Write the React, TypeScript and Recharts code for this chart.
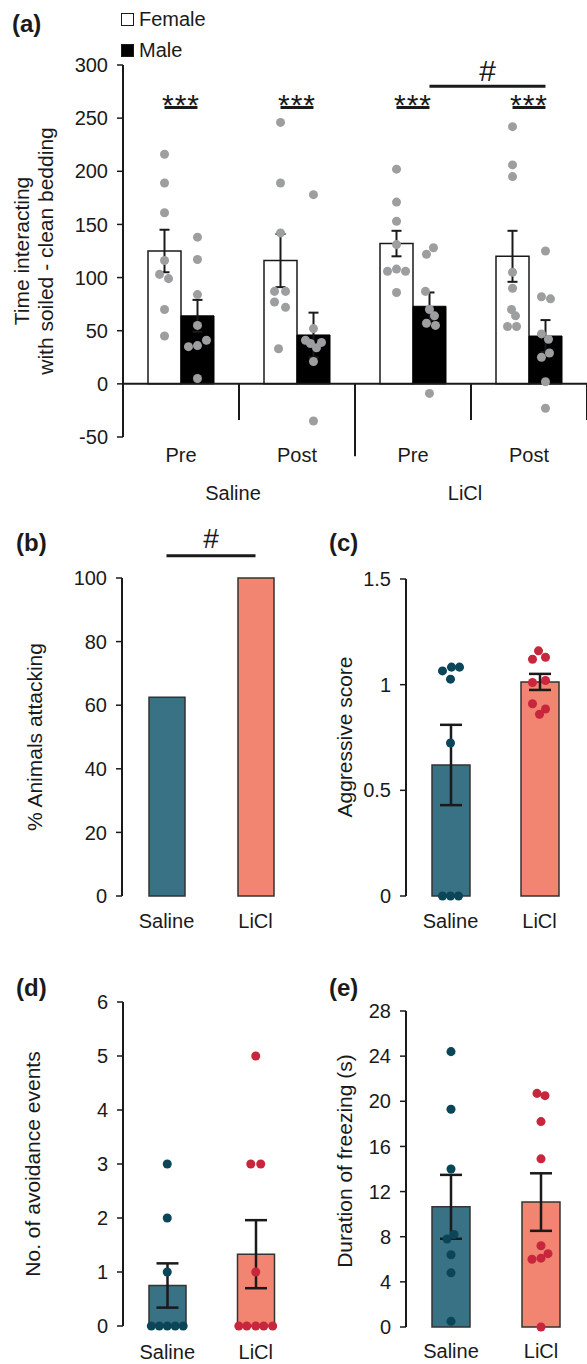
import React from "react"
import { Bar, Cell, ComposedChart, ErrorBar, Legend, ReferenceLine, Scatter, XAxis, YAxis } from "recharts"

const FONT = '"Liberation Sans", Arial, Helvetica, sans-serif'
const INK = "#1a1a1a"
const GRAY = "#9c9ea0"
const BAR_COLORS = ["#3a7285", "#f28472"]
const DOT_COLORS = ["#0b4658", "#c8263c"]

// (a) soiled - clean bedding, per phase
const phases = ["Pre", "Post", "Pre", "Post"]
const treatments = ["Saline", "LiCl"]
const femaleMean = [125, 116, 132, 120]
const femaleSem = [20, 25, 12, 24]
const maleMean = [64, 46, 73, 45]
const maleSem = [15, 21, 13, 15]
const femalePoints = [
  [216, 189, 161, 116, 103, 99, 70, 45],
  [246, 189, 142, 87, 87, 77, 72, 33],
  [202, 171, 153, 131, 106, 108, 106, 86],
  [242, 206, 195, 105, 90, 70, 64, 54, 54],
]
const femaleJitter = [
  [0, 0, 0, 0, -5, 4, 0, 0],
  [0, 0, 0, -6, 5, -6, 5, -2],
  [0, 0, 0, 0, -9, 0, 9, 0],
  [0, 0, 0, 0, 0, -1, 3, -5, 4],
]
const malePoints = [
  [138, 117, 84, 55, 35, 36, 41, 5],
  [178, 52, 41, 39, 38, 34, 21, -35],
  [128, 122, 87, 70, 64, 57, 55, -9],
  [125, 82, 80, 47, 42, 29, 25, 2, -23],
]
const maleJitter = [
  [0, 0, 0, 0, -9, 0, 9, 0],
  [0, 0, -8, 8, -3, 3, 0, 0],
  [4, -3, -4, 0, 5, -3, 6, 0],
  [0, -4, 5, -4, 3, 4, -4, 0, 0],
]

// (b) % animals attacking
const groups = ["Saline", "LiCl"]
const pctAttacking = [62.5, 100]

// (c) aggressive score
const aggMean = [0.62, 1.013]
const aggSem = [0.19, 0.038]
const aggSaline = [1.065, 1.083, 1.083, 1.026, 0.724, 0, 0, 0]
const aggSalineJitter = [-8, 1, 9, 0, 0, -8, 0, 8]
const aggLicl = [1.16, 1.12, 1.13, 1.01, 1.02, 0.91, 0.885, 0.86]
const aggLiclJitter = [-1, -7, 6, -7, 6, -7, 6, 0]

// (d) avoidance events
const avoidMean = [0.75, 1.33]
const avoidSem = [0.41, 0.63]
const avoidSaline = [3, 2, 1, 0, 0, 0, 0, 0]
const avoidSalineJitter = [0, 0, 0, -16, -8, 0, 8, 16]
const avoidLicl = [5, 3, 3, 1, 0, 0, 0, 0, 0]
const avoidLiclJitter = [0, -5, 5, 0, -17, -9, 0, 8, 17]

// (e) freezing duration
const freezeMean = [10.65, 11.07]
const freezeSem = [2.83, 2.55]
const freezeSaline = [24.4, 19.3, 14, 8.2, 7.8, 6.4, 4.8, 0.5]
const freezeSalineJitter = [0, 0, 0, 3, -4, 0, 0, 0]
const freezeLicl = [20.7, 20.5, 18.2, 14.9, 7.2, 6.0, 6.1, 6.5, 0]
const freezeLiclJitter = [-4, 4, 0, 0, 0, -9, 0, 7, 0]

const dataA = phases.map((phase, i) => ({
  phase,
  female: femaleMean[i],
  femaleSem: femaleSem[i],
  male: maleMean[i],
  maleSem: maleSem[i],
}))

const UNIT_A = 116
const dotsA = (vals: number[][], jit: number[][], slot: number) =>
  vals.flatMap((g, i) => g.map((y, j) => ({ x: i + slot + jit[i][j] / UNIT_A, y })))

const femaleDots = dotsA(femalePoints, femaleJitter, 0.358)
const maleDots = dotsA(malePoints, maleJitter, 0.642)

const dotsSmall = (vals: number[], jit: number[], idx: number, unit: number) =>
  vals.map((y, j) => ({ x: idx + 0.5 + jit[j] / unit, y }))

const sigA = [
  { from: 0.358, to: 0.642, y: 260 },
  { from: 1.358, to: 1.642, y: 260 },
  { from: 2.358, to: 2.642, y: 260 },
  { from: 3.358, to: 3.642, y: 260 },
]
const separators = [
  { x: 1, to: -34 },
  { x: 2, to: -68 },
  { x: 3, to: -34 },
  { x: 4, to: -34 },
]

const tickStyle = { fontSize: 20, fill: INK, fontFamily: FONT }

function YTitle({ lines, xs, cy, size }: { lines: string[]; xs: number[]; cy: number; size: number }) {
  return (
    <g>
      {lines.map((t, i) => (
        <text
          key={i}
          x={xs[i]}
          y={cy}
          dy="0.35em"
          transform={`rotate(-90 ${xs[i]} ${cy})`}
          textAnchor="middle"
          fontSize={size}
          fill={INK}
          fontFamily={FONT}
        >
          {t}
        </text>
      ))}
    </g>
  )
}

const renderLegend = (props: any) => {
  const items = (props.payload || []).filter((p: any) => p.type !== "none")
  return (
    <div style={{ fontSize: 20, lineHeight: "31px", fontFamily: FONT, color: INK }}>
      {items.map((entry: any) => (
        <div key={entry.value} style={{ display: "flex", alignItems: "center" }}>
          <span
            style={{
              display: "inline-block",
              width: 11,
              height: 11,
              border: `1.5px solid ${INK}`,
              background: entry.color,
              marginRight: 5,
            }}
          />
          {entry.value}
        </div>
      ))}
    </div>
  )
}

function PanelA() {
  return (
    <div style={{ position: "absolute", left: 0, top: 0 }}>
      <ComposedChart width={587} height={520} data={dataA} barGap={0} margin={{ top: 65, right: 0, bottom: 13, left: 63 }}>
        <XAxis
          xAxisId="cat"
          dataKey="phase"
          height={30}
          axisLine={false}
          tickLine={false}
          tickSize={0}
          tickMargin={11}
          interval={0}
          tick={tickStyle}
        />
        <XAxis
          xAxisId="num"
          type="number"
          dataKey="x"
          domain={[0, 4]}
          ticks={[1, 3]}
          tickFormatter={(v: number) => treatments[(v - 1) / 2]}
          height={40}
          axisLine={false}
          tickLine={false}
          tickSize={0}
          tickMargin={19}
          tick={{ ...tickStyle, dx: -6 }}
        />
        <YAxis
          width={60}
          domain={[-50, 300]}
          ticks={[-50, 0, 50, 100, 150, 200, 250, 300]}
          interval={0}
          tick={tickStyle}
          tickSize={6}
          tickMargin={9}
          axisLine={{ stroke: INK, strokeWidth: 2 }}
          tickLine={{ stroke: INK, strokeWidth: 1.5 }}
          label={{
            content: () => (
              <YTitle lines={["Time interacting", "with soiled - clean bedding"]} xs={[22, 46]} cy={251} size={21} />
            ),
          }}
        />
        <Legend
          layout="vertical"
          align="center"
          verticalAlign="middle"
          wrapperStyle={{ top: 4, left: 121, width: 120 }}
          content={renderLegend}
        />
        <ReferenceLine y={0} stroke={INK} strokeWidth={2} />
        {separators.map((s) => (
          <ReferenceLine
            key={s.x}
            xAxisId="num"
            segment={[{ x: s.x, y: 0 }, { x: s.x, y: s.to }]}
            stroke={INK}
            strokeWidth={2}
            ifOverflow="visible"
          />
        ))}
        <Bar xAxisId="cat" dataKey="female" name="Female" fill="#ffffff" stroke={INK} strokeWidth={1.5} barSize={33} isAnimationActive={false}>
          <ErrorBar dataKey="femaleSem" width={5} stroke={INK} strokeWidth={2} />
        </Bar>
        <Bar xAxisId="cat" dataKey="male" name="Male" fill="#000000" stroke="#000" strokeWidth={1} barSize={33} isAnimationActive={false}>
          <ErrorBar dataKey="maleSem" width={5} stroke={INK} strokeWidth={2} />
        </Bar>
        <Scatter xAxisId="num" data={femaleDots} dataKey="y" fill={GRAY} legendType="none" isAnimationActive={false} />
        <Scatter xAxisId="num" data={maleDots} dataKey="y" fill={GRAY} legendType="none" isAnimationActive={false} />
        {sigA.map((s, i) => (
          <ReferenceLine
            key={i}
            xAxisId="num"
            segment={[{ x: s.from, y: s.y }, { x: s.to, y: s.y }]}
            stroke={INK}
            strokeWidth={3}
            ifOverflow="visible"
            label={{ value: "***", position: "top", offset: -7, fontSize: 30, fill: INK, letterSpacing: 1 }}
          />
        ))}
        <ReferenceLine
          xAxisId="num"
          segment={[{ x: 2.642, y: 280 }, { x: 3.642, y: 280 }]}
          stroke={INK}
          strokeWidth={3}
          ifOverflow="visible"
          label={{ value: "#", position: "top", offset: 5, fontSize: 30, fill: INK }}
        />
      </ComposedChart>
    </div>
  )
}

type SmallProps = {
  left: number
  top: number
  width: number
  height: number
  margin: { top: number; right: number; bottom: number; left: number }
  domain: [number, number]
  ticks: number[]
  title: string
  titleX: number
  titleY: number
  labelGap: number
  barSize: number
  means: number[]
  sems?: number[]
  dots?: { x: number; y: number }[][]
  sig?: { y: number; label: string }
}

function SmallPanel(p: SmallProps) {
  const data = groups.map((g, i) => ({ group: g, value: p.means[i], sem: p.sems ? p.sems[i] : 0 }))
  return (
    <div style={{ position: "absolute", left: p.left, top: p.top }}>
      <ComposedChart width={p.width} height={p.height} data={data} barGap={0} margin={p.margin}>
        <XAxis
          xAxisId="num"
          type="number"
          dataKey="x"
          domain={[0, 2]}
          ticks={[0, 1, 2]}
          height={0}
          tick={false}
          tickSize={7}
          axisLine={{ stroke: INK, strokeWidth: 2 }}
          tickLine={{ stroke: INK, strokeWidth: 2 }}
        />
        <XAxis
          xAxisId="cat"
          dataKey="group"
          height={30}
          axisLine={false}
          tickLine={false}
          tickSize={0}
          tickMargin={p.labelGap}
          interval={0}
          tick={tickStyle}
        />
        <YAxis
          width={60}
          domain={p.domain}
          ticks={p.ticks}
          interval={0}
          tick={tickStyle}
          tickSize={6}
          tickMargin={9}
          axisLine={{ stroke: INK, strokeWidth: 2 }}
          tickLine={{ stroke: INK, strokeWidth: 1.5 }}
          label={{ content: () => <YTitle lines={[p.title]} xs={[p.titleX]} cy={p.titleY} size={21} /> }}
        />
        <Bar xAxisId="cat" dataKey="value" barSize={p.barSize} stroke="#333" strokeWidth={1.5} isAnimationActive={false}>
          {data.map((d, i) => (
            <Cell key={d.group} fill={BAR_COLORS[i]} />
          ))}
          {p.sems && <ErrorBar dataKey="sem" width={11} stroke={INK} strokeWidth={2.5} />}
        </Bar>
        {p.dots &&
          p.dots.map((d, i) => (
            <Scatter key={i} xAxisId="num" data={d} dataKey="y" fill={DOT_COLORS[i]} legendType="none" isAnimationActive={false} />
          ))}
        {p.sig && (
          <ReferenceLine
            xAxisId="cat"
            segment={[{ x: groups[0], y: p.sig.y }, { x: groups[1], y: p.sig.y }]}
            stroke={INK}
            strokeWidth={3}
            ifOverflow="visible"
            label={{ value: p.sig.label, position: "top", offset: 8, fontSize: 28, fill: INK }}
          />
        )}
      </ComposedChart>
    </div>
  )
}

const panelLabel = (text: string, left: number, top: number) => (
  <div
    key={text}
    style={{ position: "absolute", left, top, fontSize: 24, fontWeight: 700, lineHeight: "24px", fontFamily: FONT, color: INK }}
  >
    {text}
  </div>
)

export default function App() {
  return (
    <div
      style={{
        position: "absolute",
        left: 0,
        top: 0,
        width: 587,
        height: 1364,
        overflow: "hidden",
        background: "#fff",
        fontFamily: FONT,
      }}
    >
      <PanelA />
      <SmallPanel
        left={0}
        top={520}
        width={310}
        height={420}
        margin={{ top: 58, right: 10, bottom: 14, left: 62 }}
        domain={[0, 100]}
        ticks={[0, 20, 40, 60, 80, 100]}
        title="% Animals attacking"
        titleX={35}
        titleY={217}
        labelGap={18}
        barSize={36}
        means={pctAttacking}
        sig={{ y: 107, label: "#" }}
      />
      <SmallPanel
        left={300}
        top={520}
        width={287}
        height={420}
        margin={{ top: 59, right: 3, bottom: 14, left: 46 }}
        domain={[0, 1.5]}
        ticks={[0, 0.5, 1, 1.5]}
        title="Aggressive score"
        titleX={45}
        titleY={217}
        labelGap={18}
        barSize={38}
        means={aggMean}
        sems={aggSem}
        dots={[dotsSmall(aggSaline, aggSalineJitter, 0, 89), dotsSmall(aggLicl, aggLiclJitter, 1, 89)]}
      />
      <SmallPanel
        left={0}
        top={940}
        width={310}
        height={424}
        margin={{ top: 62, right: 10, bottom: 8, left: 63 }}
        domain={[0, 6]}
        ticks={[0, 1, 2, 3, 4, 5, 6]}
        title="No. of avoidance events"
        titleX={33}
        titleY={224}
        labelGap={19}
        barSize={37}
        means={avoidMean}
        sems={avoidSem}
        dots={[dotsSmall(avoidSaline, avoidSalineJitter, 0, 89), dotsSmall(avoidLicl, avoidLiclJitter, 1, 89)]}
      />
      <SmallPanel
        left={300}
        top={940}
        width={287}
        height={424}
        margin={{ top: 71, right: 1, bottom: 7, left: 46 }}
        domain={[0, 28]}
        ticks={[0, 4, 8, 12, 16, 20, 24, 28]}
        title="Duration of freezing (s)"
        titleX={45}
        titleY={221}
        labelGap={17}
        barSize={38}
        means={freezeMean}
        sems={freezeSem}
        dots={[dotsSmall(freezeSaline, freezeSalineJitter, 0, 90), dotsSmall(freezeLicl, freezeLiclJitter, 1, 90)]}
      />
      {panelLabel("(a)", 12, 12)}
      {panelLabel("(b)", 16, 531)}
      {panelLabel("(c)", 329, 531)}
      {panelLabel("(d)", 16, 976)}
      {panelLabel("(e)", 329, 976)}
    </div>
  )
}
